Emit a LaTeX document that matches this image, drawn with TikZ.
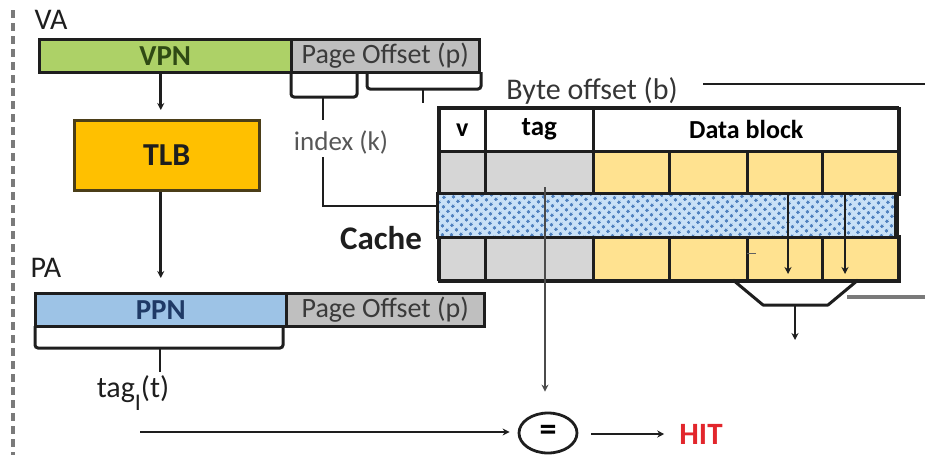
\documentclass[tikz,border=0pt]{standalone}
\usepackage{fontspec}
\setmainfont{Carlito}
\usetikzlibrary{arrows.meta,patterns.meta,calc,shapes.geometric}
\definecolor{lc}{HTML}{1E1E1E}
\definecolor{vgreen}{HTML}{ADD167}
\definecolor{vgtext}{HTML}{2F4A14}
\definecolor{pgray}{HTML}{BFBFBF}
\definecolor{ptext}{HTML}{3A3A3A}
\definecolor{pblue}{HTML}{9DC3E6}
\definecolor{pbtext}{HTML}{1F3A66}
\definecolor{tlbor}{HTML}{FFC000}
\definecolor{cgray}{HTML}{D6D6D6}
\definecolor{cyel}{HTML}{FFE290}
\definecolor{hblue}{HTML}{C9E1F7}
\definecolor{hdot}{HTML}{4F80BE}
\definecolor{hitred}{HTML}{E2262C}
\definecolor{dashg}{HTML}{7A7A7A}
\newcommand\myfs[1]{\fontsize{#1}{#1}\selectfont}
\begin{document}
\begin{tikzpicture}[x=1pt,y=-1pt,
  bar/.style={draw=lc, line width=2.5pt, inner sep=0pt, anchor=north west, minimum height=33pt},
  cell/.style={draw=lc, line width=2.5pt, inner sep=0pt, anchor=north west},
  lbl/.style={inner sep=0pt, font=\myfs{30}},
  arr/.style={draw=lc, line width=2.8pt, -{Stealth[length=7pt,width=7pt]}},
  ln/.style={draw=lc, line width=2.8pt},
  brk/.style={draw=lc, line width=3pt, rounded corners=3pt}]
\useasboundingbox (0,0) rectangle (925,455);
% left dashed border
\draw[dashg, line width=4pt, dash pattern=on 8pt off 5pt] (13,10) -- (13,455);
% VA
\node[lbl, text=lc] (va) at (51,20) {VA};
\node[bar, fill=vgreen, minimum width=252pt, font=\myfs{29}\bfseries, text=vgtext] (vpn) at (38,38) {VPN};
\node[bar, fill=pgray, minimum width=188pt, font=\myfs{28}, text=ptext] (po1) at (290,38) {Page Offset (p)};
% brackets under page offset
\draw[brk] (291,72) -- (291,97) -- (357,97) -- (357,72);
\draw[ln] (323,97) -- (323,120);
\draw[brk] (367,72) -- (367,89) -- (481,89) -- (481,72);
\draw[ln] (423,89) -- (423,103);
\node[lbl, text=ptext!85, font=\myfs{27}] (idx) at (341,142) {index (k)};
% TLB
\node[cell, fill=tlbor, draw=lc!80!tlbor, minimum width=185pt, minimum height=70pt, font=\myfs{32}\bfseries, text=lc] (tlb) at (73,119) {TLB};
% PA
\node[lbl, text=lc] (pa) at (46,268) {PA};
\node[bar, fill=pblue, minimum width=251pt, font=\myfs{29}\bfseries, text=pbtext] (ppn) at (34,292) {PPN};
\node[bar, fill=pgray, minimum width=198pt, font=\myfs{28}, text=ptext] (po2) at (285,292) {Page Offset (p)};
\draw[arr, shorten >=9pt] (vpn.south -| ppn.north) -- (tlb.north -| ppn.north);
\draw[arr, shorten >=14pt] (tlb.south -| ppn.north) -- (ppn.north);
\draw[brk] (35,326) -- (35,348) -- (283,348) -- (283,326);
\draw[ln] (160,348) -- (160,372);
\node[lbl, text=lc] (tagt) at (133,393) {tag\raisebox{-0.42em}{\myfs{24}I}(t)};
% Cache label
\node[lbl, font=\myfs{33}\bfseries, text=lc] (cache) at (381,238) {Cache};
% Byte offset
\node[lbl, font=\myfs{30}, text=lc!90] (bo) at (592,91) {Byte offset (b)};
\coordinate (bo1) at (703,84);
\coordinate (bo2) at (925,84);
\draw[ln] (bo1) -- (bo2);
% cache table
\node[cell, fill=white, minimum width=46pt, minimum height=43pt, font=\myfs{26}\bfseries] (hv) at (438,107) {v};
\node[cell, fill=white, minimum width=108pt, minimum height=43pt, font=\myfs{27}\bfseries] (htag) at (484,107) {tag};
\node[cell, fill=white, minimum width=306pt, minimum height=43pt, font=\myfs{26}\bfseries] (hdata) at (592,107) {Data block};
\foreach \r/\y/\h in {a/150/43, c/235/45} {
  \node[cell, fill=cgray, minimum width=46pt, minimum height=\h pt] (v\r) at (438,\y) {};
  \node[cell, fill=cgray, minimum width=108pt, minimum height=\h pt] (t\r) at (484,\y) {};
  \node[cell, fill=cyel, minimum width=76pt, minimum height=\h pt] (d1\r) at (592,\y) {};
  \node[cell, fill=cyel, minimum width=78pt, minimum height=\h pt] (d2\r) at (668,\y) {};
  \node[cell, fill=cyel, minimum width=75pt, minimum height=\h pt] (d3\r) at (746,\y) {};
  \node[cell, fill=cyel, minimum width=77pt, minimum height=\h pt] (d4\r) at (821,\y) {};
}
\node[cell, draw=none, fill=hblue, minimum width=456pt, minimum height=42pt] (hrow) at (437,193) {};
\fill[pattern={Dots[distance=6.5pt, angle=45, radius=1.8pt]}, pattern color=hdot] (hrow.north west) rectangle (hrow.south east);
\draw[lc, line width=3pt] (hrow.north west) rectangle (hrow.south east);
\draw[lc, line width=2.5pt] (438,107) rectangle (898,280);
\draw[lc!70, line width=1pt] (747,253) -- (756,253);
% index connector
\coordinate (idxs) at (323,157);
\draw[ln] (idxs) |- (hrow.west |- 0,206);
% mux
\coordinate (s1) at (788,193); \coordinate (e1) at (788,274);
\coordinate (s2) at (845,193); \coordinate (e2) at (845,274);
\draw[arr] (s1) -- (e1);
\draw[arr] (s2) -- (e2);
\coordinate (m1) at (733,280); \coordinate (m2) at (763,305);
\coordinate (m3) at (828,305); \coordinate (m4) at (858,280);
\draw[ln, line width=3pt, line join=round] (m1) -- (m2) -- (m3) -- (m4);
\coordinate (mo) at (795,305); \coordinate (mout) at (795,340);
\draw[arr] (mo) -- (mout);
\coordinate (bi1) at (925,297); \coordinate (bi2) at (847,297);
\draw[draw=dashg, line width=3.5pt] (bi1) -- (bi2);
% comparator
\node[ellipse, draw=lc, line width=2.8pt, minimum width=58pt, minimum height=40pt, inner sep=0pt, font=\myfs{34}\bfseries] (eq) at (548,433) {=};
\node[inner sep=0pt, font=\myfs{31}\bfseries, text=hitred] (hit) at (701,434) {HIT};
\coordinate (tags) at (545,187);
\draw[arr, draw=lc!80, shorten >=20pt] (tags) -- (tags |- eq.north);
\coordinate (tagl) at (140,432);
\draw[arr, shorten >=8pt] (tagl) -- (eq.west |- 0,432);
\draw[arr, shorten <=13pt, shorten >=15pt] (eq.east |- 0,434) -- (hit.west);
\end{tikzpicture}
\end{document}
